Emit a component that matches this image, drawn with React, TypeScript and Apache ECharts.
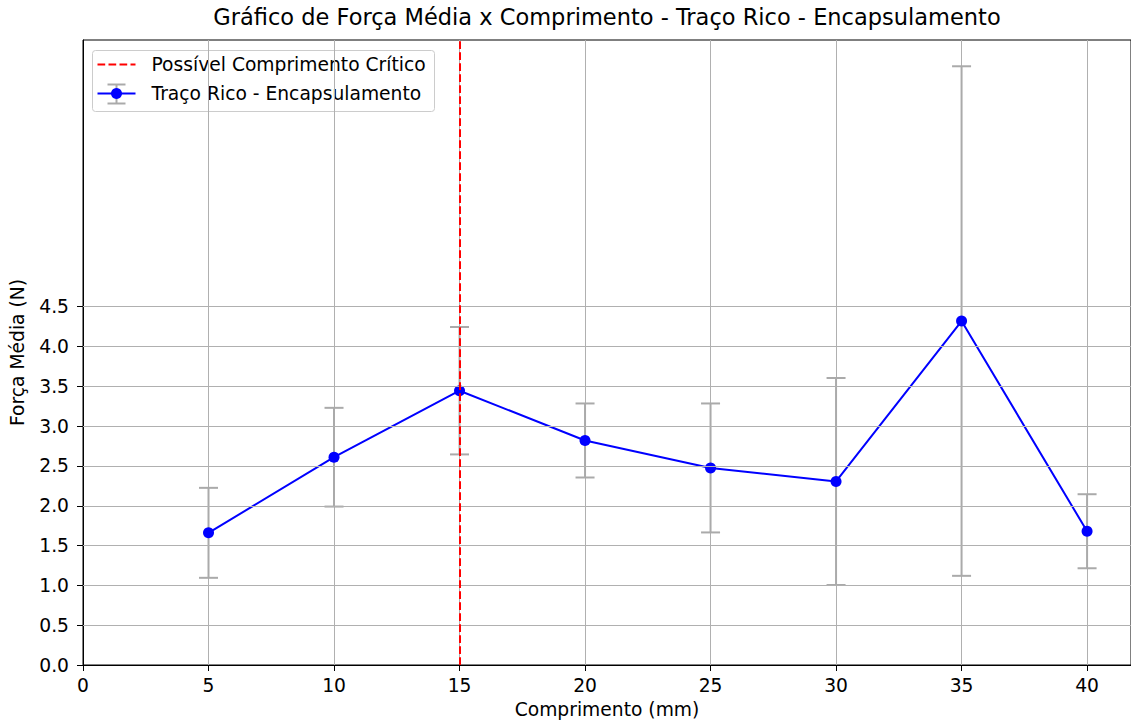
import React, { useEffect, useRef } from "react";
import * as echarts from "echarts";

// Comprimento (mm)
const comprimentos = [5, 10, 15, 20, 25, 30, 35, 40];
// Força média (N)
const forcaMedia = [1.66, 2.61, 3.445, 2.82, 2.475, 2.305, 4.32, 1.68];
// Desvio (N), barras de erro simétricas
const desvio = [0.565, 0.62, 0.8, 0.465, 0.81, 1.3, 3.2, 0.465];
// Comprimento crítico
const comprimentoCritico = 15;
// Marcas do eixo Y
const yTicks = [0, 0.5, 1, 1.5, 2, 2.5, 3, 3.5, 4, 4.5];

const FONT = "DejaVu Sans";
const FS = 18.7;
const ERR_COLOR = "#aaaaaa";
const GRID_COLOR = "#b0b0b0";

export default function App() {
  const ref = useRef<HTMLDivElement>(null);

  useEffect(() => {
    if (!ref.current) return;
    const chart = echarts.init(ref.current, null, { renderer: "svg" });

    const lineData = comprimentos.map((x, i) => [x, forcaMedia[i]]);
    const errData = comprimentos.map((x, i) => [x, forcaMedia[i], desvio[i]]);

    const legendX = 92;
    const legendY = 50;

    chart.setOption({
      animation: false,
      textStyle: { fontFamily: FONT },
      title: {
        text: "Gráfico de Força Média x Comprimento - Traço Rico - Encapsulamento",
        left: 607,
        top: 5,
        textAlign: "center",
        padding: 0,
        textStyle: { fontFamily: FONT, fontSize: 22.5, fontWeight: "normal", color: "#000" },
      },
      grid: {
        left: 82,
        right: -2,
        top: 40,
        bottom: 63,
        show: true,
        borderColor: "#000",
        borderWidth: 1,
        backgroundColor: "transparent",
      },
      xAxis: {
        type: "value",
        min: 0,
        max: 41.75,
        interval: 5,
        name: "Comprimento (mm)",
        nameLocation: "middle",
        nameGap: 35,
        nameTextStyle: { fontFamily: FONT, fontSize: FS, color: "#000" },
        axisLine: { show: true, onZero: false, lineStyle: { color: "#000", width: 1 } },
        axisTick: { show: true, length: 6, lineStyle: { color: "#000", width: 1 } },
        axisLabel: {
          fontFamily: FONT,
          fontSize: FS,
          color: "#000",
          margin: 11,
          showMaxLabel: false,
        },
        splitLine: { show: true, lineStyle: { color: GRID_COLOR, width: 1 } },
      },
      yAxis: {
        type: "value",
        min: 0,
        max: 7.85,
        name: "Força Média (N)",
        nameLocation: "middle",
        nameGap: 56,
        nameTextStyle: { fontFamily: FONT, fontSize: FS, color: "#000" },
        axisLine: { show: true, onZero: false, lineStyle: { color: "#000", width: 1 } },
        axisTick: { show: true, length: 6, customValues: yTicks, lineStyle: { color: "#000", width: 1 } },
        axisLabel: {
          fontFamily: FONT,
          fontSize: FS,
          color: "#000",
          margin: 14,
          customValues: yTicks,
          formatter: (v: number) => v.toFixed(1),
        },
        splitLine: { show: false },
      },
      series: [
        {
          // horizontal grid lines at the labelled ticks only
          type: "line",
          data: [],
          silent: true,
          z: 0,
          markLine: {
            silent: true,
            symbol: "none",
            label: { show: false },
            lineStyle: { color: GRID_COLOR, width: 1, type: "solid" },
            data: yTicks.slice(1).map((v) => ({ yAxis: v })),
          },
        },
        {
          // error bars with caps
          type: "custom",
          name: "erro",
          z: 2,
          data: errData,
          encode: { x: 0, y: 1 },
          renderItem: (params: any, api: any) => {
            const x = api.value(0);
            const y = api.value(1);
            const e = api.value(2);
            const top = api.coord([x, y + e]);
            const bot = api.coord([x, y - e]);
            const hw = 9.5;
            const style = { stroke: ERR_COLOR, lineWidth: 2 };
            return {
              type: "group",
              children: [
                { type: "line", shape: { x1: top[0], y1: top[1], x2: bot[0], y2: bot[1] }, style },
                { type: "line", shape: { x1: top[0] - hw, y1: top[1], x2: top[0] + hw, y2: top[1] }, style },
                { type: "line", shape: { x1: bot[0] - hw, y1: bot[1], x2: bot[0] + hw, y2: bot[1] }, style },
              ],
            };
          },
        },
        {
          type: "line",
          name: "Possível Comprimento Crítico",
          data: [],
          z: 3,
          markLine: {
            silent: true,
            symbol: "none",
            label: { show: false },
            lineStyle: { color: "#ff0000", width: 2, type: [7.7, 3.3] },
            data: [{ xAxis: comprimentoCritico }],
          },
        },
        {
          type: "line",
          name: "Traço Rico - Encapsulamento",
          data: lineData,
          z: 4,
          symbol: "circle",
          symbolSize: 11,
          lineStyle: { color: "#0000ff", width: 2 },
          itemStyle: { color: "#0000ff" },
        },
      ],
      graphic: [
        {
          type: "group",
          left: legendX,
          top: legendY,
          z: 100,
          children: [
            {
              type: "rect",
              shape: { x: 0, y: 0, width: 342, height: 61, r: 3 },
              style: { fill: "rgba(255,255,255,0.8)", stroke: "#cccccc", lineWidth: 1 },
            },
            {
              type: "line",
              shape: { x1: 5, y1: 14, x2: 43, y2: 14 },
              style: { stroke: "#ff0000", lineWidth: 2, lineDash: [7.7, 3.3] },
            },
            {
              type: "text",
              style: {
                x: 59,
                y: 14,
                text: "Possível Comprimento Crítico",
                fontFamily: FONT,
                fontSize: FS,
                fill: "#000",
                verticalAlign: "middle",
              },
            },
            {
              type: "line",
              shape: { x1: 24, y1: 34, x2: 24, y2: 53 },
              style: { stroke: ERR_COLOR, lineWidth: 2 },
            },
            {
              type: "line",
              shape: { x1: 15, y1: 34, x2: 33, y2: 34 },
              style: { stroke: ERR_COLOR, lineWidth: 2 },
            },
            {
              type: "line",
              shape: { x1: 15, y1: 53, x2: 33, y2: 53 },
              style: { stroke: ERR_COLOR, lineWidth: 2 },
            },
            {
              type: "line",
              shape: { x1: 5, y1: 43, x2: 43, y2: 43 },
              style: { stroke: "#0000ff", lineWidth: 2 },
            },
            {
              type: "circle",
              shape: { cx: 24, cy: 43, r: 5.5 },
              style: { fill: "#0000ff" },
            },
            {
              type: "text",
              style: {
                x: 59,
                y: 43,
                text: "Traço Rico - Encapsulamento",
                fontFamily: FONT,
                fontSize: FS,
                fill: "#000",
                verticalAlign: "middle",
              },
            },
          ],
        },
      ],
    });

    return () => chart.dispose();
  }, []);

  return (
    <div
      ref={ref}
      style={{ position: "fixed", left: 0, top: 0, width: 1131, height: 728, background: "#fff" }}
    />
  );
}
